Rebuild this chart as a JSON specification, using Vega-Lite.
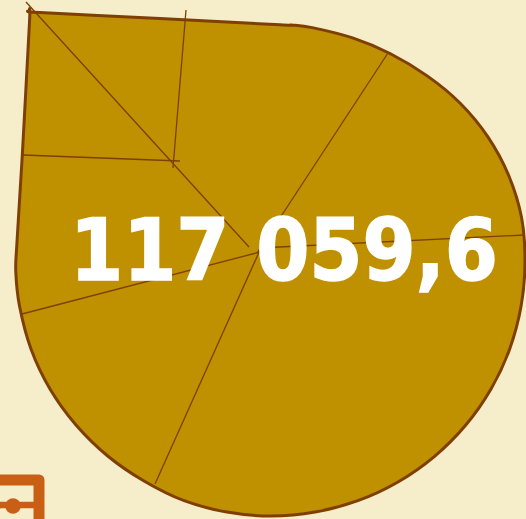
{"$schema":"https://vega.github.io/schema/vega-lite/v6.json","width":526,"height":519,"padding":0,"autosize":"none","background":"#f6eecb","view":{"stroke":null},
"encoding":{"x":{"field":"x","type":"quantitative","scale":{"domain":[0,526],"nice":false,"zero":false},"axis":null},"y":{"field":"y","type":"quantitative","scale":{"domain":[0,519],"reverse":true,"nice":false,"zero":false},"axis":null}},
"datasets":{"outline":[{"o":0,"x":160,"y":18.6},{"o":1,"x":280,"y":24.7},{"o":2,"x":291.7,"y":25},{"o":3,"x":312.3,"y":27.6},{"o":4,"x":352.6,"y":37.9},{"o":5,"x":390,"y":53.5},{"o":6,"x":427.2,"y":75.9},{"o":7,"x":460.2,"y":103.2},{"o":8,"x":487.9,"y":136.8},{"o":9,"x":508.7,"y":175.5},{"o":10,"x":521.6,"y":217.8},{"o":11,"x":525,"y":262},{"o":12,"x":521.1,"y":306.1},{"o":13,"x":509.7,"y":348.9},{"o":14,"x":491,"y":389},{"o":15,"x":465.6,"y":425.3},{"o":16,"x":434.3,"y":456.6},{"o":17,"x":398,"y":482},{"o":18,"x":357.9,"y":500.7},{"o":19,"x":315.1,"y":512.1},{"o":20,"x":271,"y":516},{"o":21,"x":226.9,"y":512.1},{"o":22,"x":184.1,"y":500.7},{"o":23,"x":144,"y":481},{"o":24,"x":107.7,"y":456},{"o":25,"x":76,"y":425},{"o":26,"x":50,"y":389},{"o":27,"x":31,"y":349},{"o":28,"x":19.5,"y":306},{"o":29,"x":15.8,"y":272},{"o":30,"x":16.8,"y":245},{"o":31,"x":22.3,"y":155},{"o":32,"x":29.5,"y":22},{"o":33,"x":30,"y":12},{"o":34,"x":40,"y":12.5},{"o":35,"x":160,"y":18.6}],
"segments":[{"x":26,"y":2,"x2":249,"y2":247},{"x":186,"y":10,"x2":173,"y2":168},{"x":23,"y":155,"x2":180,"y2":161},{"x":388,"y":53,"x2":257,"y2":253},{"x":22,"y":314,"x2":260,"y2":252},{"x":155,"y":484,"x2":260,"y2":250},{"x":259,"y":248,"x2":524,"y2":235}],
"frame":[{"o":0,"x":-5,"y":480},{"o":1,"x":39,"y":480},{"o":2,"x":39,"y":530}],
"bar":[{"o":0,"x":-5,"y":505},{"o":1,"x":39,"y":505}],
"beads":[{"x":13,"y":506},{"x":-7,"y":506}],
"label":[{"x":284,"y":280,"t":"117 059,6"}]},
"layer":[
{"data":{"name":"outline"},"mark":{"type":"line","fill":"#bf9000","stroke":"#7f3f00","strokeWidth":3,"interpolate":"cardinal","tension":0,"strokeJoin":"round"},"encoding":{"order":{"field":"o"}}},
{"data":{"name":"segments"},"mark":{"type":"rule","stroke":"#7f3f00","strokeWidth":1.3},"encoding":{"x2":{"field":"x2"},"y2":{"field":"y2"}}},
{"data":{"name":"frame"},"mark":{"type":"line","stroke":"#c85f14","strokeWidth":11,"strokeJoin":"round","clip":true},"encoding":{"order":{"field":"o"}}},
{"data":{"name":"bar"},"mark":{"type":"line","stroke":"#c85f14","strokeWidth":6.5,"clip":true},"encoding":{"order":{"field":"o"}}},
{"data":{"name":"beads"},"mark":{"type":"circle","color":"#c85f14","opacity":1,"size":240,"clip":true}},
{"data":{"name":"label"},"mark":{"type":"text","font":"DejaVu Sans Condensed","fontWeight":"bold","fontSize":85,"color":"#ffffff","stroke":"#ffffff","strokeWidth":1.5,"align":"center","baseline":"alphabetic"},"encoding":{"text":{"field":"t"}}}
]}
